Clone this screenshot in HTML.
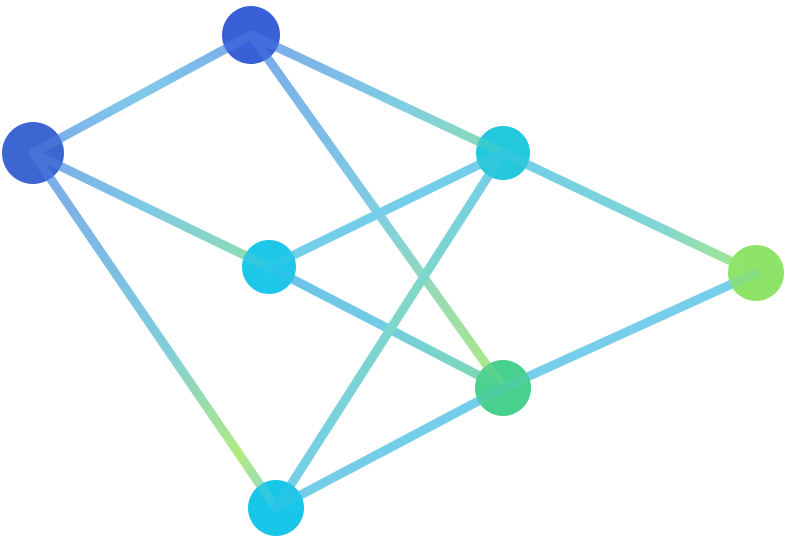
<!DOCTYPE html>
<html><head><meta charset="utf-8"><style>
html,body{margin:0;padding:0;background:#fff;}
svg{display:block;}
</style></head><body>
<svg width="790" height="541" viewBox="0 0 790 541" xmlns="http://www.w3.org/2000/svg">
<defs>
<linearGradient id="gAB" gradientUnits="userSpaceOnUse" x1="251" y1="35" x2="33" y2="153"><stop offset="0" stop-color="#6a9ee8"/><stop offset="0.5" stop-color="#70c4e8"/><stop offset="1" stop-color="#6a9ee8"/></linearGradient>
<linearGradient id="gAC" gradientUnits="userSpaceOnUse" x1="251" y1="35" x2="503" y2="153"><stop offset="0" stop-color="#6a9ee8"/><stop offset="0.6" stop-color="#70c8e0"/><stop offset="1" stop-color="#80d8a8"/></linearGradient>
<linearGradient id="gAF" gradientUnits="userSpaceOnUse" x1="251" y1="35" x2="503" y2="388"><stop offset="0" stop-color="#6a9ee8"/><stop offset="0.5" stop-color="#70c8e0"/><stop offset="1" stop-color="#a8e870"/></linearGradient>
<linearGradient id="gBD" gradientUnits="userSpaceOnUse" x1="33" y1="153" x2="269" y2="267"><stop offset="0" stop-color="#6a9ee8"/><stop offset="0.5" stop-color="#70c4e0"/><stop offset="1" stop-color="#80dca0"/></linearGradient>
<linearGradient id="gDF" gradientUnits="userSpaceOnUse" x1="269" y1="267" x2="503" y2="388"><stop offset="0" stop-color="#5ab8e8"/><stop offset="0.5" stop-color="#60c8e0"/><stop offset="1" stop-color="#70d8a0"/></linearGradient>
<linearGradient id="gBG" gradientUnits="userSpaceOnUse" x1="33" y1="153" x2="276" y2="508"><stop offset="0" stop-color="#6a9ee8"/><stop offset="0.55" stop-color="#70c8d8"/><stop offset="0.85" stop-color="#a8e870"/><stop offset="1" stop-color="#80d0d8"/></linearGradient>
<linearGradient id="gCE" gradientUnits="userSpaceOnUse" x1="503" y1="153" x2="756" y2="273"><stop offset="0" stop-color="#60c8e8"/><stop offset="0.6" stop-color="#70d0d0"/><stop offset="1" stop-color="#a0e870"/></linearGradient>
<linearGradient id="gCG" gradientUnits="userSpaceOnUse" x1="503" y1="153" x2="276" y2="508"><stop offset="0" stop-color="#60c8e8"/><stop offset="0.4" stop-color="#70d4c0"/><stop offset="1" stop-color="#60c8e8"/></linearGradient>
</defs>
<g id="edges" stroke-width="9" stroke-linecap="round" opacity="0.85" fill="none">
<line x1="251" y1="35" x2="33" y2="153" stroke="url(#gAB)"/>
<line x1="251" y1="35" x2="503" y2="153" stroke="url(#gAC)"/>
<line x1="251" y1="35" x2="503" y2="388" stroke="url(#gAF)"/>
<line x1="33" y1="153" x2="269" y2="267" stroke="url(#gBD)"/>
<line x1="269" y1="267" x2="503" y2="388" stroke="url(#gDF)"/>
<line x1="33" y1="153" x2="276" y2="508" stroke="url(#gBG)"/>
<line x1="269" y1="267" x2="503" y2="153" stroke="#62c8e8"/>
<line x1="503" y1="153" x2="756" y2="273" stroke="url(#gCE)"/>
<line x1="503" y1="153" x2="276" y2="508" stroke="url(#gCG)"/>
<line x1="503" y1="388" x2="756" y2="273" stroke="#66c8e8"/>
<line x1="503" y1="388" x2="276" y2="508" stroke="#62c8e8"/>
</g>
<g>
<circle cx="251" cy="35" r="29" fill="#3a60d8"/>
<circle cx="33" cy="153" r="31" fill="#3e66d2"/>
<circle cx="503" cy="153" r="27" fill="#24c8dc"/>
<circle cx="269" cy="267" r="27" fill="#1ec6ea"/>
<circle cx="756" cy="273" r="28" fill="#8ee468"/>
<circle cx="503" cy="388" r="28" fill="#48d08e"/>
<circle cx="276" cy="508" r="28" fill="#18c6ea"/>
</g>
<use href="#edges" opacity="0.25"/>
</svg>
</body></html>
